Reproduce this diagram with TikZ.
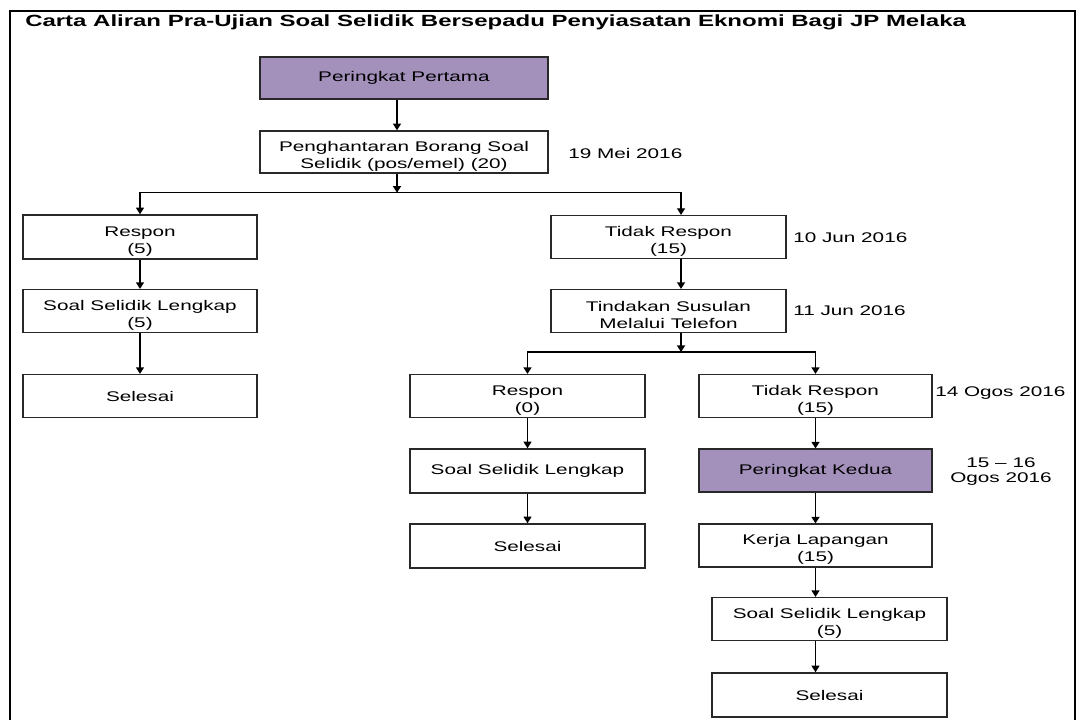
\documentclass[tikz,border=0pt]{standalone}
\usepackage{fontspec}
\setmainfont{Liberation Sans}[FakeStretch=1.48]
\usetikzlibrary{arrows.meta}
\definecolor{lila}{RGB}{163,145,188}
\definecolor{edge}{RGB}{40,40,40}
\begin{document}
\begin{tikzpicture}[x=0.75pt,y=-0.75pt,
  font=\fontsize{10.5}{12.75}\selectfont,
  box/.style={draw=edge, line width=1.1pt, align=center, inner sep=0pt,
              minimum width=176pt, minimum height=32pt},
  two/.style={text height=26.4pt},
  wide/.style={minimum width=216pt},
  purple/.style={fill=lila},
  datum/.style={anchor=west, inner sep=0pt, align=center},
  arr/.style={-{Triangle[width=6pt,length=5pt]}, line width=1.1pt, draw=black}]
\clip (0,0) rectangle (1077,720);
\useasboundingbox (0,0) rectangle (1077,720);
% frame
\draw[line width=2pt] (10,740) -- (10,11) -- (1075,11) -- (1075,740);
% title
\node[anchor=west, inner sep=0pt, font=\bfseries\fontsize{12.15}{14}\selectfont] (title) at (25,22)
  {Carta Aliran Pra-Ujian Soal Selidik Bersepadu Penyiasatan Eknomi Bagi JP Melaka};
% boxes
\node[box, wide, purple, minimum height=31.5pt] (pp) at (404,78) {Peringkat Pertama};
\node[box, two, wide, minimum height=31.5pt] (ph) at (404,152) {Penghantaran Borang Soal\\Selidik (pos/emel) (20)};
\node[box, two, minimum width=175.5pt, minimum height=33pt] (r1) at (140,237) {Respon\\(5)};
\node[box, two] (tr1) at (668.5,237) {Tidak Respon\\(15)};
\node[box, two, minimum width=175.5pt] (ssl1) at (140,311) {Soal Selidik Lengkap\\(5)};
\node[box, two] (tind) at (668.5,311) {Tindakan Susulan\\Melalui Telefon};
\node[box, minimum width=175.5pt] (sel1) at (140,396) {Selesai};
\node[box, two] (r2) at (527.5,396) {Respon\\(0)};
\node[box, two, minimum width=175pt] (tr2) at (815.5,396) {Tidak Respon\\(15)};
\node[box, minimum height=33pt] (ssl2) at (527.5,471) {Soal Selidik Lengkap};
\node[box, purple, minimum width=175pt] (pk) at (815.5,470.5) {Peringkat Kedua};
\node[box, minimum height=33pt] (sel2) at (527.5,546) {Selesai};
\node[box, two, minimum width=175pt] (kl) at (815.5,545.5) {Kerja Lapangan\\(15)};
\node[box, two] (ssl3) at (829.5,619) {Soal Selidik Lengkap\\(5)};
\node[box, minimum height=33pt] (sel3) at (829.5,695) {Selesai};
% dates
\node[datum] (d1) at (568,153) {19 Mei 2016};
\node[datum] (d2) at (793,238) {10 Jun 2016};
\node[datum] (d3) at (793,311) {11 Jun 2016};
\node[datum] (d4) at (935,393) {14 Ogos 2016};
\node[inner sep=0pt, align=center, font=\fontsize{10.5}{11.25}\selectfont] (d5) at (1001,472) {15 -- 16\\Ogos 2016};
% connectors
\path ([xshift=-5.25pt]ph.south) ++(0,19) coordinate (b1);
\path ([xshift=9.4pt]tind.south) ++(0,19) coordinate (b2);
\draw[arr] ([xshift=-5.25pt]pp.south) -- ([xshift=-5.25pt]ph.north);
\draw[arr] ([xshift=-5.25pt]ph.south) -- (b1);
\draw[arr] (b1) -| (r1.north);
\draw[arr] (b1) -| ([xshift=9.4pt]tr1.north);
\draw[arr] (r1) -- (ssl1);
\draw[arr] (ssl1) -- (sel1);
\draw[arr] ([xshift=9.4pt]tr1.south) -- ([xshift=9.4pt]tind.north);
\draw[arr] ([xshift=9.4pt]tind.south) -- (b2);
\draw[arr] (b2) -| (r2.north);
\draw[arr] (b2) -| (tr2.north);
\draw[arr] (r2) -- (ssl2);
\draw[arr] (ssl2) -- (sel2);
\draw[arr] (tr2) -- (pk);
\draw[arr] (pk) -- (kl);
\draw[arr] (kl.south) -- (kl.south |- ssl3.north);
\draw[arr] (kl.south |- ssl3.south) -- (kl.south |- sel3.north);
\end{tikzpicture}
\end{document}
